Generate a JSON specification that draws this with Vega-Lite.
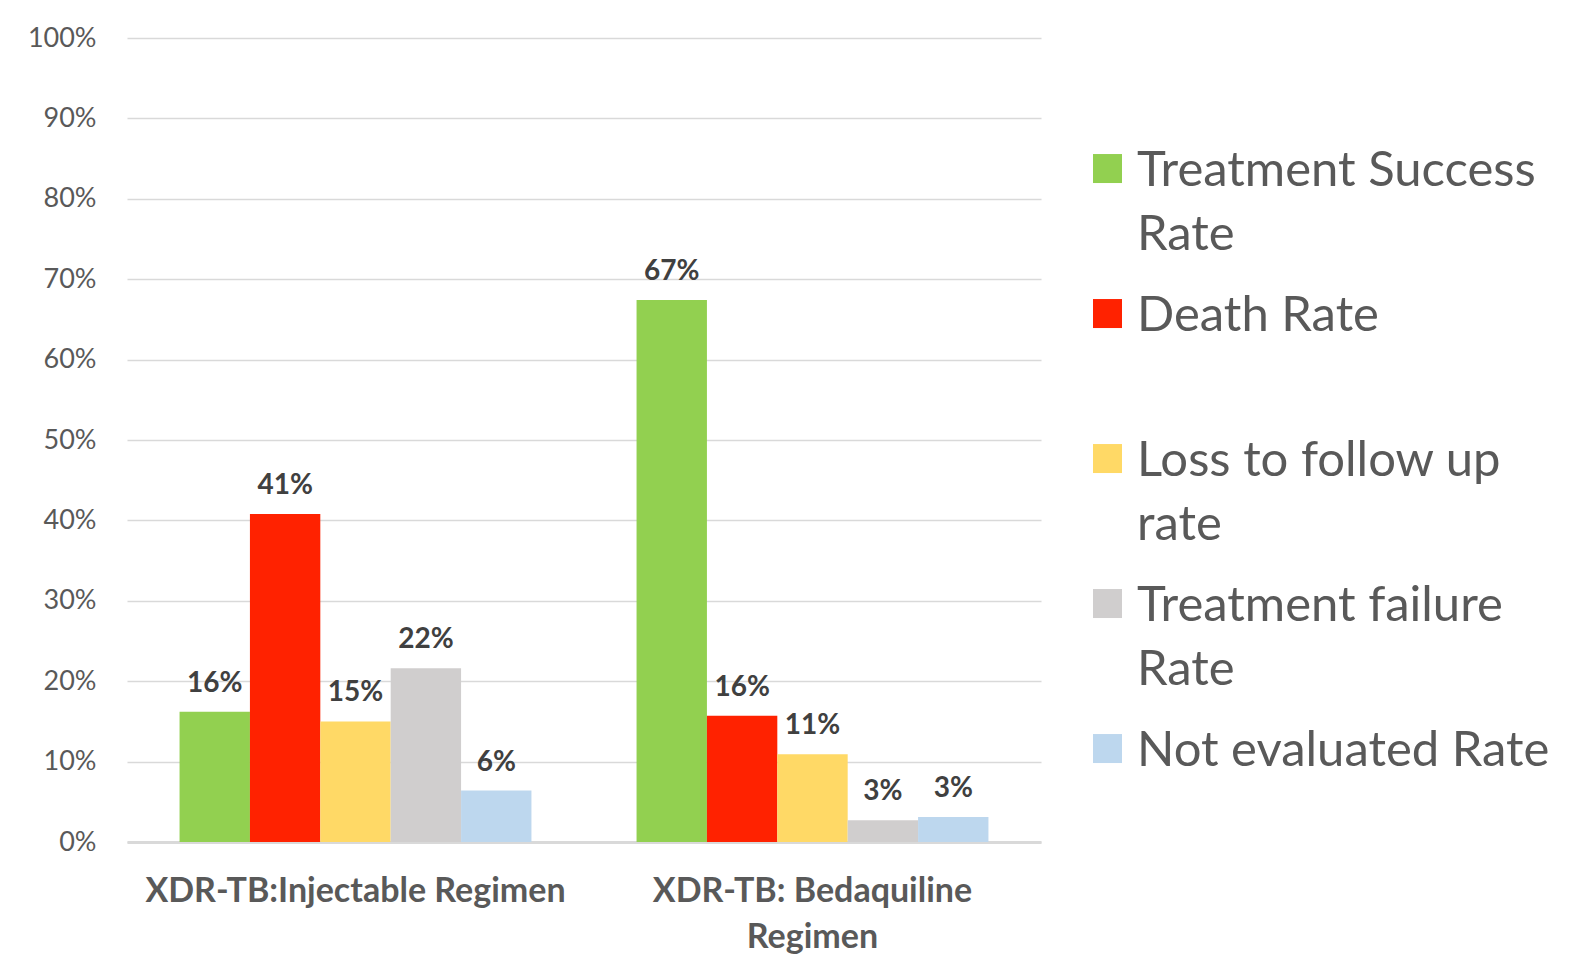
{
  "$schema": "https://vega.github.io/schema/vega-lite/v6.json",
  "autosize": {"type": "none"},
  "padding": {"left": 127, "top": 38, "right": 530, "bottom": 130},
  "width": 914,
  "height": 804,
  "background": "white",
  "config": {"view": {"stroke": null}, "style": {"guide-label": {"lineHeight": 64}}},
  "data": {
    "values": [
      {"regimen": "XDR-TB:Injectable Regimen", "outcome": "Treatment Success Rate", "value": 0.162},
      {"regimen": "XDR-TB:Injectable Regimen", "outcome": "Death Rate", "value": 0.408},
      {"regimen": "XDR-TB:Injectable Regimen", "outcome": "Loss to follow up rate", "value": 0.150},
      {"regimen": "XDR-TB:Injectable Regimen", "outcome": "Treatment failure Rate", "value": 0.216},
      {"regimen": "XDR-TB:Injectable Regimen", "outcome": "Not evaluated Rate", "value": 0.064},
      {"regimen": "XDR-TB: Bedaquiline Regimen", "outcome": "Treatment Success Rate", "value": 0.674},
      {"regimen": "XDR-TB: Bedaquiline Regimen", "outcome": "Death Rate", "value": 0.157},
      {"regimen": "XDR-TB: Bedaquiline Regimen", "outcome": "Loss to follow up rate", "value": 0.109},
      {"regimen": "XDR-TB: Bedaquiline Regimen", "outcome": "Treatment failure Rate", "value": 0.027},
      {"regimen": "XDR-TB: Bedaquiline Regimen", "outcome": "Not evaluated Rate", "value": 0.031}
    ]
  },
  "encoding": {
    "x": {
      "field": "regimen", "type": "nominal",
      "sort": ["XDR-TB:Injectable Regimen", "XDR-TB: Bedaquiline Regimen"],
      "scale": {"paddingInner": 0.23, "paddingOuter": 0.115},
      "axis": {
        "title": null, "labelAngle": 0, "ticks": false,
        "domain": true, "domainColor": "#d9d9d9", "domainWidth": 3,
        "labelFont": "Lato", "labelFontWeight": "bold", "labelFontSize": 34,
        "labelColor": "#595959", "labelPadding": 32, "labelLineHeight": 46,
        "labelLimit": 0,
        "labelExpr": "datum.value == 'XDR-TB: Bedaquiline Regimen' ? ['XDR-TB: Bedaquiline', 'Regimen'] : datum.value"
      }
    },
    "xOffset": {
      "field": "outcome", "type": "nominal",
      "sort": ["Treatment Success Rate", "Death Rate", "Loss to follow up rate", "Treatment failure Rate", "Not evaluated Rate"],
      "scale": {"paddingInner": 0, "paddingOuter": 0}
    },
    "y": {
      "field": "value", "type": "quantitative",
      "scale": {"domain": [0, 1], "nice": false},
      "axis": {
        "title": null, "format": ".0%",
        "values": [0, 0.1, 0.2, 0.3, 0.4, 0.5, 0.6, 0.7, 0.8, 0.9, 1],
        "grid": true, "gridColor": "#d9d9d9", "gridWidth": 1.5,
        "domain": false, "ticks": false, "labelPadding": 31,
        "labelFont": "Lato", "labelFontSize": 27, "labelColor": "#595959"
      }
    }
  },
  "layer": [
    {
      "mark": {"type": "bar"},
      "encoding": {
        "color": {
          "field": "outcome", "type": "nominal",
          "sort": ["Treatment Success Rate", "Death Rate", "Loss to follow up rate", "Treatment failure Rate", "Not evaluated Rate"],
          "scale": {
            "domain": ["Treatment Success Rate", "Death Rate", "Loss to follow up rate", "Treatment failure Rate", "Not evaluated Rate"],
            "range": ["#92D050", "#FF2200", "#FFD966", "#D0CECE", "#BDD7EE"]
          },
          "legend": {
            "title": null, "orient": "none", "legendX": 956, "legendY": 123,
            "symbolType": "M-1,-2.17H1V-0.17H-1Z", "symbolSize": 841, "symbolStrokeWidth": 0,
            "labelFont": "Lato", "labelFontSize": 49, "labelColor": "#595959",
            "labelOffset": 5, "labelLimit": 0, "rowPadding": 31, "labelBaseline": "alphabetic",
            "labelExpr": "datum.value == 'Treatment Success Rate' ? ['Treatment Success', 'Rate'] : datum.value == 'Death Rate' ? ['Death Rate', ''] : datum.value == 'Loss to follow up rate' ? ['Loss to follow up', 'rate'] : datum.value == 'Treatment failure Rate' ? ['Treatment failure', 'Rate'] : ['Not evaluated Rate', '']"
          }
        }
      }
    },
    {
      "mark": {"type": "text", "baseline": "middle", "dy": -28, "font": "Lato", "fontWeight": "bold", "fontSize": 28, "color": "#404040"},
      "encoding": {
        "text": {"field": "value", "type": "quantitative", "format": ".0%"}
      }
    }
  ]
}
